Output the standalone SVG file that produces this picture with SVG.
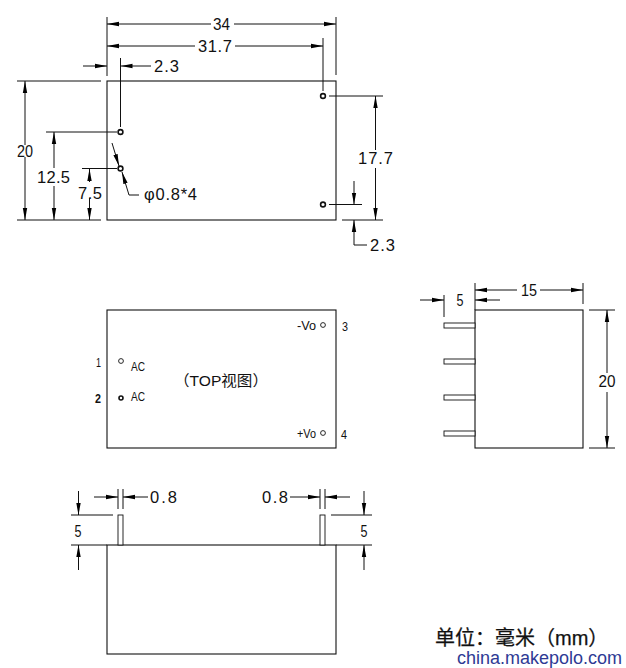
<svg xmlns="http://www.w3.org/2000/svg" width="626" height="668" viewBox="0 0 626 668">
<style>
text{font-family:"Liberation Sans","Noto Sans CJK SC",sans-serif;fill:#111}
.d{font-size:16.500px;text-anchor:middle;dominant-baseline:central}
.s{font-size:13px;dominant-baseline:central}
.o{fill:none;stroke:#111;stroke-width:1.1}
.l{fill:none;stroke:#111;stroke-width:1}
.h{fill:#fff;stroke:#111;stroke-width:1.6}
.p{fill:#fff;stroke:#111;stroke-width:.9}
</style>
<defs>
<marker id="a" markerUnits="userSpaceOnUse" viewBox="0 0 12 8" refX="12" refY="4" markerWidth="12" markerHeight="8" orient="auto-start-reverse"><path d="M0 1.800L12 4L0 6.200Z" fill="#000"/></marker>
</defs>
<rect width="626" height="668" fill="#fff"/>
<g id="connectors" class="l">
<path d="M107 17V76M336 17V75M323 38V91M120.500 58V127"/>
<path d="M195 46H107" marker-end="url(#a)"/><path d="M234 24H336" marker-end="url(#a)"/><path d="M211 24H107" marker-end="url(#a)"/>
<path d="M235 46H323" marker-end="url(#a)"/>
<path d="M83 66H107" marker-end="url(#a)"/><path d="M151 66H120.500" marker-end="url(#a)"/>
<path d="M17 81H101M17 220H101M46 132H117M82 168.500H117"/>
<path d="M25 145V81" marker-end="url(#a)"/><path d="M25 157V220" marker-end="url(#a)"/>
<path d="M54 168V132" marker-end="url(#a)"/><path d="M54 186V220" marker-end="url(#a)"/>
<path d="M89.500 182V169" marker-end="url(#a)"/><path d="M89.500 198V220" marker-end="url(#a)"/>
<path d="M112 143L119 166" marker-end="url(#a)"/><path d="M139 195H129L122 172" marker-end="url(#a)"/>
<path d="M329 96H383M329 204.500H362M342 220H383"/>
<path d="M375.500 150V96" marker-end="url(#a)"/><path d="M375.500 168V220" marker-end="url(#a)"/>
<path d="M354 181V204.500" marker-end="url(#a)"/><path d="M367 245H354V220" marker-end="url(#a)"/>
<path d="M475 283V310M583 283V304M444 295V317"/>
<path d="M517 290H475" marker-end="url(#a)"/><path d="M540 290H583" marker-end="url(#a)"/>
<path d="M420 300H444" marker-end="url(#a)"/><path d="M500 300H475" marker-end="url(#a)"/>
<path d="M589 310H615M589 448H615"/>
<path d="M607 373V310" marker-end="url(#a)"/><path d="M607 392V448" marker-end="url(#a)"/>
<path d="M118 489V509M123 489V509M320 489V509M325 489V509"/>
<path d="M94 497H118" marker-end="url(#a)"/><path d="M148 497H123" marker-end="url(#a)"/>
<path d="M290 497H320" marker-end="url(#a)"/><path d="M350 497H325" marker-end="url(#a)"/>
<path d="M71 515H113M71 545H107M331 515H372M336 545H372"/>
<path d="M78.500 491V515" marker-end="url(#a)"/><path d="M78.500 570V545" marker-end="url(#a)"/>
<path d="M364 491V515" marker-end="url(#a)"/><path d="M364 570V545" marker-end="url(#a)"/>
</g>
<g id="outline-view">
<rect class="o" x="107" y="81" width="229" height="139"/>
<circle class="h" cx="120.500" cy="132" r="2.400"/><circle class="h" cx="120.500" cy="168.500" r="2.400"/>
<circle class="h" cx="323" cy="96" r="2.400"/><circle class="h" cx="323" cy="204.500" r="2.400"/>
</g>
<g id="top-view">
<rect class="o" x="107" y="310" width="229" height="138"/>
<circle class="p" cx="121" cy="361" r="2.400"/><circle class="h" cx="121" cy="398" r="2"/>
<circle class="p" cx="323" cy="325" r="2.400"/><circle class="p" cx="323" cy="433" r="2.400"/>
<text class="s" x="131" y="366" textLength="14" lengthAdjust="spacingAndGlyphs">AC</text>
<text class="s" x="131" y="396" textLength="14" lengthAdjust="spacingAndGlyphs">AC</text>
<text class="s" x="297" y="325" textLength="19" lengthAdjust="spacingAndGlyphs">-Vo</text>
<text class="s" x="297" y="433" textLength="19" lengthAdjust="spacingAndGlyphs">+Vo</text>
<text class="s" x="96" y="362" textLength="5" lengthAdjust="spacingAndGlyphs">1</text>
<text class="s" x="95" y="398" font-weight="bold" textLength="6" lengthAdjust="spacingAndGlyphs">2</text>
<text class="s" x="342" y="326" textLength="6" lengthAdjust="spacingAndGlyphs">3</text>
<text class="s" x="341" y="434" textLength="6" lengthAdjust="spacingAndGlyphs">4</text>
<text x="174" y="380" font-size="15" dominant-baseline="central" textLength="94" lengthAdjust="spacingAndGlyphs">（TOP视图）</text>
</g>
<g id="side-view">
<rect class="o" x="475" y="310" width="108" height="138"/>
<rect class="p" x="444" y="323" width="31" height="5"/><rect class="p" x="444" y="359" width="31" height="5"/>
<rect class="p" x="444" y="395" width="31" height="5"/><rect class="p" x="444" y="431" width="31" height="5"/>
</g>
<g id="bottom-view">
<rect class="o" x="107" y="545" width="229" height="109"/>
<rect class="p" x="118" y="515" width="5" height="30"/><rect class="p" x="320" y="515" width="5" height="30"/>
</g>
<g id="dimensions">
<text class="d" x="221.500" y="24" textLength="17" lengthAdjust="spacingAndGlyphs">34</text>
<text class="d" x="215" y="46" textLength="34">31.7</text>
<text class="d" x="166.500" y="66" textLength="25">2.3</text>
<text class="d" x="25" y="151" textLength="16" lengthAdjust="spacingAndGlyphs">20</text>
<text class="d" x="53.500" y="177" textLength="33">12.5</text>
<text class="d" x="90" y="193" textLength="24">7.5</text>
<text class="d" x="170.500" y="194" textLength="53">φ0.8*4</text>
<text class="d" x="375.500" y="158" textLength="35">17.7</text>
<text class="d" x="382.500" y="245" textLength="25">2.3</text>
<text class="d" x="529" y="290" textLength="16" lengthAdjust="spacingAndGlyphs">15</text>
<text class="d" x="460" y="300" textLength="7" lengthAdjust="spacingAndGlyphs">5</text>
<text class="d" x="607" y="381" textLength="17" lengthAdjust="spacingAndGlyphs">20</text>
<text class="d" x="163.500" y="497" textLength="27">0.8</text>
<text class="d" x="275" y="497" textLength="26">0.8</text>
<text class="d" x="78" y="531" textLength="7" lengthAdjust="spacingAndGlyphs">5</text>
<text class="d" x="364" y="531" textLength="7" lengthAdjust="spacingAndGlyphs">5</text>
</g>
<g id="caption">
<text x="435" y="645" font-size="20" style="stroke:#111;stroke-width:.25">单位：毫米（mm）</text>
<text x="457" y="664" font-size="18" style="fill:#2e3a94">china.makepolo.com</text>
</g>
</svg>
